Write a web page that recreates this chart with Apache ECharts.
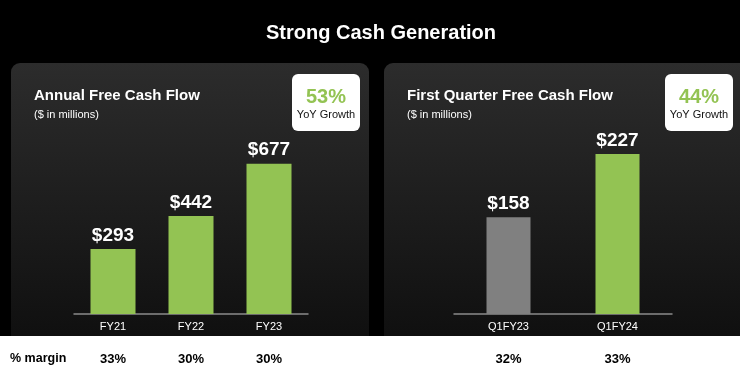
<!DOCTYPE html>
<html>
<head>
<meta charset="utf-8">
<script src="https://cdn.jsdelivr.net/npm/echarts@6/dist/echarts.min.js"></script>
<style>
html,body{margin:0;padding:0;background:#000;}
#c{width:740px;height:373px;}
</style>
</head>
<body>
<div id="c"></div>
<script>
// ---- data ----
var annualCategories = ['FY21', 'FY22', 'FY23'];
var annualValues = [293, 442, 677];
var annualMargins = ['33%', '30%', '30%'];
var annualGrowth = '53%';

var quarterCategories = ['Q1FY23', 'Q1FY24'];
var quarterValues = [158, 227];
var quarterMargins = ['32%', '33%'];
var quarterGrowth = '44%';

var GREEN = '#93c353';
var GRAY = '#808080';
var FONT = '"Liberation Sans", Arial, sans-serif';

var chart = echarts.init(document.getElementById('c'), null, {renderer: 'canvas'});

function panelGraphics(x, w, title) {
  return [
    {type: 'rect', z: -10, shape: {x: x, y: 63, width: w, height: 290, r: [9, 9, 0, 0]},
     style: {fill: new echarts.graphic.LinearGradient(0, 0, 0, 1, [
       {offset: 0, color: '#2c2c2c'}, {offset: 1, color: '#0e0e0e'}])}},
    {type: 'text', z: 5, x: x + 23, y: 96, style: {text: title, fill: '#fff', font: 'bold 15px ' + FONT, verticalAlign: 'middle', textAlign: 'left'}},
    {type: 'text', z: 5, x: x + 23, y: 115, style: {text: '($ in millions)', fill: '#fff', font: '11px ' + FONT, verticalAlign: 'middle', textAlign: 'left'}}
  ];
}
function growthBox(x, val) {
  return [
    {type: 'rect', z: 5, shape: {x: x, y: 74, width: 68, height: 57, r: 6}, style: {fill: '#fff'}},
    {type: 'text', z: 6, x: x + 34, y: 97, style: {text: val, fill: GREEN, font: 'bold 20px ' + FONT, textAlign: 'center', verticalAlign: 'middle'}},
    {type: 'text', z: 6, x: x + 34, y: 115, style: {text: 'YoY Growth', fill: '#111', font: '11px ' + FONT, textAlign: 'center', verticalAlign: 'middle'}}
  ];
}

var graphics = [].concat(
  panelGraphics(11, 358, 'Annual Free Cash Flow'),
  panelGraphics(384, 370, 'First Quarter Free Cash Flow'),
  growthBox(292, annualGrowth),
  growthBox(665, quarterGrowth),
  [
    {type: 'rect', z: 1, shape: {x: 0, y: 336, width: 740, height: 37}, style: {fill: '#fff'}},
    {type: 'text', z: 6, x: 10, y: 359, style: {text: '% margin', fill: '#000', font: 'bold 12.5px ' + FONT, textAlign: 'left', verticalAlign: 'middle'}}
  ]
);

function catAxis(gridIndex, data) {
  return {
    type: 'category', gridIndex: gridIndex, data: data,
    axisLine: {lineStyle: {color: '#8a8a8a', width: 1.5}},
    axisTick: {show: false},
    axisLabel: {color: '#fff', fontSize: 11, fontFamily: FONT, margin: 7}
  };
}
function marginAxis(gridIndex, data) {
  return {
    type: 'category', gridIndex: gridIndex, data: data, position: 'bottom', offset: 39,
    axisLine: {show: false}, axisTick: {show: false},
    axisLabel: {color: '#000', fontSize: 13, fontWeight: 'bold', fontFamily: FONT, margin: 0}, z: 10
  };
}
var labelStyle = {show: true, position: 'top', distance: 4, color: '#fff', fontSize: 19, fontWeight: 'bold', fontFamily: FONT,
  formatter: function (p) { return '$' + p.value; }};

chart.setOption({
  backgroundColor: '#000',
  animation: false,
  title: {text: 'Strong Cash Generation', left: 261, top: 18,
    textStyle: {color: '#fff', fontSize: 20, fontWeight: 'bold', fontFamily: FONT}},
  graphic: graphics,
  grid: [
    {left: 74, width: 234, top: 92, height: 222},
    {left: 454, width: 218, top: 92, height: 222}
  ],
  xAxis: [
    catAxis(0, annualCategories),
    catAxis(1, quarterCategories),
    marginAxis(0, annualMargins),
    marginAxis(1, quarterMargins)
  ],
  yAxis: [
    {type: 'value', gridIndex: 0, min: 0, max: 1000, show: false},
    {type: 'value', gridIndex: 1, min: 52, max: 295, show: false}
  ],
  series: [
    {type: 'bar', xAxisIndex: 0, yAxisIndex: 0, data: annualValues, barWidth: 45,
     itemStyle: {color: GREEN}, label: labelStyle},
    {type: 'bar', xAxisIndex: 1, yAxisIndex: 1, barWidth: 44,
     data: quarterValues.map(function (v, i) { return {value: v, itemStyle: {color: i === 0 ? GRAY : GREEN}}; }),
     label: labelStyle}
  ]
});
</script>
</body>
</html>
